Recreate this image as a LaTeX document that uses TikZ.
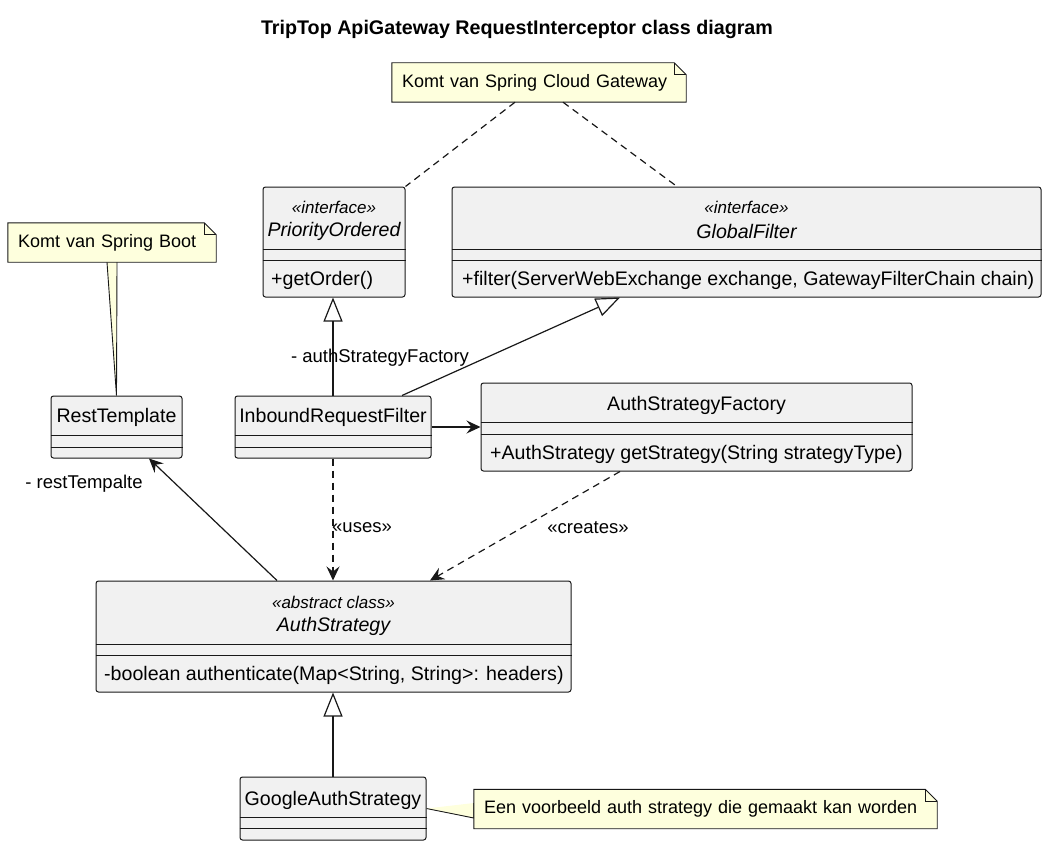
\documentclass[tikz,border=0pt]{standalone}
\usepackage{fontspec}
\setmainfont{Liberation Sans}
\usepackage{tikz}
\usetikzlibrary{arrows.meta,calc}
\definecolor{clsfill}{HTML}{F1F1F1}
\definecolor{clsline}{HTML}{181818}
\definecolor{notefill}{HTML}{FEFFDD}

\begin{document}
\begin{tikzpicture}[x=1pt,y=-1pt,
    cls/.style={draw=clsline,fill=clsfill,line width=1pt,rounded corners=2.5pt,inner sep=0},
    txt/.style={inner sep=0,font=\fontsize{19.6}{22}\selectfont},
    lbl/.style={inner sep=0,font=\fontsize{18.5}{21}\selectfont},
    stereo/.style={inner sep=0,font=\fontsize{17}{19}\selectfont\itshape},
    cname/.style={inner sep=0,font=\fontsize{19.6}{22}\selectfont\itshape},
    sep/.style={draw=clsline,line width=0.8pt},
    note/.style={inner xsep=10pt,inner ysep=0,minimum height=39pt,align=left,font=\fontsize{18}{21}\selectfont},
    notebox/.style={draw=clsline,fill=notefill,line width=0.9pt},
    link/.style={draw=clsline,line width=1.2pt},
    dep/.style={link,dash pattern=on 7pt off 5pt},
    inherit/.style={link,-{Triangle[open,fill=white,length=24pt,width=19pt]}},
    assoc/.style={link,-{Stealth[length=14pt,width=13pt,inset=5pt]}}]
        \useasboundingbox (0,0) rectangle (1051,848);

        \node[font=\fontsize{19.7}{22}\selectfont\bfseries] (title) at (517,29) {TripTop ApiGateway RequestInterceptor class diagram};

        \node[cls,minimum width=142pt,minimum height=110pt] (PO) at (334,242) {};
        \node[stereo] (PO-st) at (334,207) {«interface»};
        \node[cname] (PO-name) at (334,231) {PriorityOrdered};
        \draw[sep] (PO.west |- 0,249) to (PO.east |- 0,249);
        \draw[sep] (PO.west |- 0,260) to (PO.east |- 0,260);
        \node[txt,anchor=west] (PO-m) at (271,280) {+getOrder()};

        \node[cls,minimum width=589pt,minimum height=110pt] (GF) at (746.5,242) {};
        \node[stereo] (GF-st) at (746.5,207) {«interface»};
        \node[cname] (GF-name) at (746.5,231) {GlobalFilter};
        \draw[sep] (GF.west |- 0,249) to (GF.east |- 0,249);
        \draw[sep] (GF.west |- 0,260) to (GF.east |- 0,260);
        \node[txt,anchor=west] (GF-m) at (462,280) {+filter(ServerWebExchange exchange, GatewayFilterChain chain)};

        \node[cls,minimum width=131pt,minimum height=62pt] (RT) at (116.5,427) {};
        \node[txt] (RT-name) at (116.5,417) {RestTemplate};
        \draw[sep] (RT.west |- 0,435) to (RT.east |- 0,435);
        \draw[sep] (RT.west |- 0,447) to (RT.east |- 0,447);

        \node[cls,minimum width=196pt,minimum height=62pt] (IRF) at (333,427) {};
        \node[txt] (IRF-name) at (333,417) {InboundRequestFilter};
        \draw[sep] (IRF.west |- 0,435) to (IRF.east |- 0,435);
        \draw[sep] (IRF.west |- 0,447) to (IRF.east |- 0,447);

        \node[cls,minimum width=431pt,minimum height=88pt] (ASF) at (696.5,427) {};
        \node[txt] (ASF-name) at (696.5,405) {AuthStrategyFactory};
        \draw[sep] (ASF.west |- 0,422) to (ASF.east |- 0,422);
        \draw[sep] (ASF.west |- 0,434) to (ASF.east |- 0,434);
        \node[txt,anchor=west] (ASF-m) at (490,454) {+AuthStrategy getStrategy(String strategyType)};

        \node[cls,minimum width=475pt,minimum height=111pt] (AS) at (333.5,636.5) {};
        \node[stereo] (AS-st) at (333.5,602) {«abstract class»};
        \node[cname] (AS-name) at (333.5,626) {AuthStrategy};
        \draw[sep] (AS.west |- 0,644) to (AS.east |- 0,644);
        \draw[sep] (AS.west |- 0,655) to (AS.east |- 0,655);
        \node[txt,anchor=west] (AS-m) at (104,675) {-boolean authenticate(Map<String, String>: headers)};

        \node[cls,minimum width=186pt,minimum height=63pt] (GAS) at (333,808.5) {};
        \node[txt] (GAS-name) at (333,800) {GoogleAuthStrategy};
        \draw[sep] (GAS.west |- 0,817) to (GAS.east |- 0,817);
        \draw[sep] (GAS.west |- 0,828) to (GAS.east |- 0,828);

        \node[note,text width=274pt] (N1) at (539,82.5) {};
        \node[note,text width=188pt] (N2) at (112,242.5) {};
        \node[note,text width=443pt] (N3) at (705.5,809) {};

        \filldraw[notebox] ([xshift=-5pt]N2.south) to (RT.north) to ([xshift=5pt]N2.south);
        \filldraw[notebox] (GAS.east) to ([yshift=-9pt]N3.west) to ([yshift=6pt]N3.west);
        \foreach \n in {N1,N2,N3} {
            \filldraw[notebox] (\n.south west) -- (\n.north west) -- ($(\n.north east)+(-12,0)$)
                -- ($(\n.north east)+(0,12)$) -- (\n.south east) -- cycle;
            \draw[notebox,fill=none] ($(\n.north east)+(-12,0)$) -- ($(\n.north east)+(-12,12)$) -- ($(\n.north east)+(0,12)$);
        }
        \node[note,text width=274pt] (N1-text) at (N1) {Komt van Spring Cloud Gateway};
        \node[note,text width=188pt] (N2-text) at (N2) {Komt van Spring Boot};
        \node[note,text width=443pt] (N3-text) at (N3) {Een voorbeeld auth strategy die gemaakt kan worden};

        \draw[dep] ([xshift=-24pt]N1.south) to (PO.north east);
        \draw[dep] ([xshift=24pt]N1.south) to ([xshift=-69.5pt]GF.north);

        \draw[inherit] (IRF.north) to (IRF.north |- PO.south);
        \draw[inherit] ([xshift=69pt]IRF.north) to ([xshift=-126.5pt]GF.south);
        \node[lbl] (lblasf) at (380,358) {- authStrategyFactory};

        \draw[assoc] (IRF.east) to (ASF.west);

        \draw[dep,-{Stealth[length=14pt,width=13pt,inset=5pt]}] (IRF.south) to (IRF.south |- AS.north);
        \node[lbl] (lbluses) at (362,528) {«uses»};

        \draw[dep,-{Stealth[length=14pt,width=13pt,inset=5pt]}] ([xshift=-76.5pt]ASF.south) to ([xshift=96.5pt]AS.north);
        \node[lbl] (lblcreates) at (588,528) {«creates»};

        \draw[assoc] ([xshift=-56.5pt]AS.north) to ([xshift=32.5pt]RT.south);
        \node[lbl] (lblrt) at (84,484) {- restTempalte};

        \draw[inherit] (GAS.north) to (GAS.north |- AS.south);
      \end{tikzpicture}
\end{document}
